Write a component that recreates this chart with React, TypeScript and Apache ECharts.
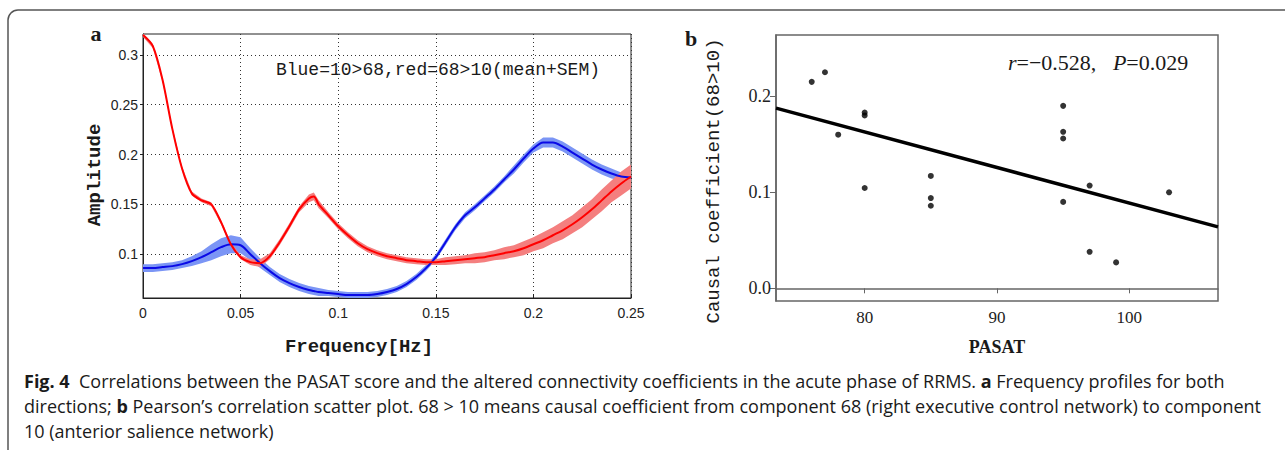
import React, { useEffect, useRef } from "react";
import * as echarts from "echarts";

// Panel a: frequency profiles (Hz)
const freq = [0, 0.005, 0.01, 0.015, 0.02, 0.025, 0.03, 0.035, 0.04, 0.045, 0.05, 0.055, 0.06, 0.065, 0.07, 0.075, 0.08, 0.085, 0.0875, 0.09, 0.095, 0.1, 0.105, 0.11, 0.115, 0.12, 0.125, 0.13, 0.135, 0.14, 0.145, 0.15, 0.155, 0.16, 0.165, 0.17, 0.175, 0.18, 0.185, 0.19, 0.195, 0.2, 0.205, 0.21, 0.215, 0.22, 0.225, 0.23, 0.235, 0.24, 0.245, 0.25];
const blueMean = [0.086, 0.086, 0.087, 0.088, 0.090, 0.093, 0.097, 0.102, 0.107, 0.110, 0.109, 0.100, 0.091, 0.083, 0.076, 0.071, 0.067, 0.064, 0.063, 0.062, 0.061, 0.060, 0.059, 0.059, 0.059, 0.060, 0.062, 0.065, 0.070, 0.077, 0.086, 0.097, 0.112, 0.127, 0.139, 0.147, 0.156, 0.165, 0.175, 0.185, 0.196, 0.206, 0.212, 0.212, 0.208, 0.202, 0.196, 0.190, 0.185, 0.181, 0.178, 0.177];
const blueSem = [0.004, 0.004, 0.004, 0.004, 0.004, 0.005, 0.006, 0.008, 0.009, 0.009, 0.008, 0.006, 0.005, 0.004, 0.004, 0.004, 0.004, 0.004, 0.004, 0.004, 0.003, 0.003, 0.003, 0.003, 0.003, 0.003, 0.003, 0.003, 0.003, 0.003, 0.003, 0.003, 0.003, 0.003, 0.003, 0.003, 0.003, 0.003, 0.003, 0.004, 0.004, 0.004, 0.005, 0.005, 0.005, 0.005, 0.005, 0.005, 0.005, 0.005, 0.004, 0.003];
const redMean = [0.320, 0.309, 0.275, 0.226, 0.186, 0.161, 0.154, 0.150, 0.132, 0.110, 0.097, 0.092, 0.091, 0.098, 0.112, 0.128, 0.145, 0.156, 0.158, 0.150, 0.139, 0.128, 0.119, 0.111, 0.105, 0.101, 0.098, 0.096, 0.094, 0.093, 0.092, 0.092, 0.093, 0.094, 0.095, 0.096, 0.097, 0.099, 0.101, 0.103, 0.106, 0.110, 0.114, 0.119, 0.124, 0.130, 0.137, 0.145, 0.154, 0.163, 0.171, 0.178];
const redSem = [0.002, 0.002, 0.002, 0.002, 0.002, 0.002, 0.002, 0.002, 0.002, 0.002, 0.002, 0.003, 0.004, 0.003, 0.003, 0.003, 0.003, 0.004, 0.004, 0.004, 0.003, 0.003, 0.003, 0.003, 0.003, 0.003, 0.003, 0.003, 0.003, 0.003, 0.003, 0.003, 0.004, 0.004, 0.004, 0.005, 0.005, 0.005, 0.006, 0.006, 0.007, 0.007, 0.008, 0.008, 0.009, 0.009, 0.010, 0.010, 0.011, 0.011, 0.012, 0.012];
const freqTicks = [0, 0.05, 0.1, 0.15, 0.2, 0.25];
const ampTicks = [0.1, 0.15, 0.2, 0.25, 0.3];

// Panel b: scatter
const pasat = [76, 77, 78, 80, 80, 80, 85, 85, 85, 95, 95, 95, 95, 97, 97, 99, 103];
const coef = [0.215, 0.225, 0.16, 0.183, 0.18, 0.1045, 0.117, 0.094, 0.086, 0.19, 0.163, 0.156, 0.09, 0.107, 0.038, 0.027, 0.1];
const fitX = [73.3, 106.7];
const fitY = [0.1876, 0.064];
const pasatTicks = [80, 90, 100];
const coefTicks = [0, 0.1, 0.2];

const bandSeries = (mean: number[], sem: number[], color: string) => ({
  type: "custom",
  xAxisIndex: 0,
  yAxisIndex: 0,
  coordinateSystem: "cartesian2d",
  clip: true,
  silent: true,
  z: 1,
  data: [[freq[0], mean[0]]],
  renderItem: (params: any, api: any) => {
    const upper = freq.map((f, i) => api.coord([f, mean[i] + sem[i]]));
    const lower = freq.map((f, i) => api.coord([f, mean[i] - sem[i]])).reverse();
    return {
      type: "polygon",
      shape: { points: upper.concat(lower) },
      style: { fill: color, stroke: "none" },
    };
  },
});

const txt = (x: number, y: number, text: string, font: any, extra: any = {}) => ({
  type: "text",
  x,
  y,
  rotation: extra.rotation || 0,
  style: {
    text,
    fill: extra.fill || "#1a1a1a",
    fontFamily: font.family,
    fontSize: font.size,
    fontWeight: font.weight || "normal",
    fontStyle: font.style || "normal",
    align: extra.align || "center",
    textAlign: extra.align || "center",
    verticalAlign: "middle",
    textVerticalAlign: "middle",
    rich: extra.rich,
  },
});

export default function App() {
  const ref = useRef<HTMLDivElement>(null);
  useEffect(() => {
    document.body.style.margin = "0";
    const chart = echarts.init(ref.current!, null, { renderer: "svg" });
    const capRich = {
      b: { fontFamily: "Open Sans", fontSize: 18, fontWeight: "bold", fill: "#1a1a1a" },
    };
    chart.setOption({
      animation: false,
      backgroundColor: "#ffffff",
      grid: [
        { left: 143, top: 34, width: 488, height: 264, show: true, borderColor: "#222", borderWidth: 1, backgroundColor: "transparent" },
        { left: 776, top: 35, width: 442, height: 266, show: true, borderColor: "#666", borderWidth: 1.5, backgroundColor: "transparent" },
      ],
      xAxis: [
        {
          type: "value", gridIndex: 0, min: 0, max: 0.25, interval: 0.05,
          axisLine: { show: true, lineStyle: { color: "#222", width: 1 } },
          axisTick: { show: true, inside: true, length: 4, lineStyle: { color: "#222" }, customValues: freqTicks },
          axisLabel: { customValues: freqTicks, fontFamily: "Liberation Sans", fontSize: 14, color: "#222", margin: 8, formatter: (v: number) => String(parseFloat(v.toFixed(3))) },
          splitLine: { show: true, lineStyle: { type: [1, 3], color: "#333", width: 1 } },
        },
        {
          type: "value", gridIndex: 1, min: 73.3, max: 106.7,
          axisLine: { show: true, lineStyle: { color: "#666", width: 1.5 } },
          axisTick: { show: true, length: 5, lineStyle: { color: "#666" }, customValues: pasatTicks },
          axisLabel: { customValues: pasatTicks, fontFamily: "Liberation Serif", fontSize: 17, color: "#222", margin: 8 },
          splitLine: { show: false },
        },
      ],
      yAxis: [
        {
          type: "value", gridIndex: 0, min: 0.056, max: 0.321, splitNumber: 5,
          axisLine: { show: true, lineStyle: { color: "#222", width: 1 } },
          axisTick: { show: true, length: 3, lineStyle: { color: "#222" }, customValues: ampTicks },
          axisLabel: {
            customValues: ampTicks, fontFamily: "Liberation Sans", fontSize: 14, color: "#222", margin: 5,
            formatter: (v: number) => (Math.abs(v / 0.05 - Math.round(v / 0.05)) < 1e-6 ? String(parseFloat(v.toFixed(3))) : ""),
          },
          splitLine: { show: true, lineStyle: { type: [1, 3], color: "#333", width: 1 } },
        },
        {
          type: "value", gridIndex: 1, min: -0.0132, max: 0.2638,
          axisLine: { show: true, lineStyle: { color: "#666", width: 1.5 } },
          axisTick: { show: true, length: 6, lineStyle: { color: "#666" }, customValues: coefTicks },
          axisLabel: { customValues: coefTicks, fontFamily: "Liberation Serif", fontSize: 18, color: "#222", margin: 5, formatter: (v: number) => v.toFixed(1) },
          splitLine: { show: false },
        },
      ],
      series: [
        bandSeries(blueMean, blueSem, "#7b95f5"),
        bandSeries(redMean, redSem, "#f47f7f"),
        {
          type: "line", xAxisIndex: 0, yAxisIndex: 0, symbol: "none", smooth: 0.3, z: 3,
          data: freq.map((f, i) => [f, blueMean[i]]),
          lineStyle: { color: "#0a0ae6", width: 2 },
        },
        {
          type: "line", xAxisIndex: 0, yAxisIndex: 0, symbol: "none", smooth: 0.3, z: 4,
          data: freq.map((f, i) => [f, redMean[i]]),
          lineStyle: { color: "#ff0000", width: 2 },
        },
        {
          type: "line", xAxisIndex: 1, yAxisIndex: 1, symbol: "none", z: 3,
          data: fitX.map((x, i) => [x, fitY[i]]),
          lineStyle: { color: "#000", width: 3.5 },
        },
        {
          type: "scatter", xAxisIndex: 1, yAxisIndex: 1, symbolSize: 6, z: 4,
          data: pasat.map((x, i) => [x, coef[i]]),
          itemStyle: { color: "#000" },
        },
      ],
      graphic: [
        { type: "rect", shape: { x: 8, y: 10, width: 1300, height: 470, r: 10 }, style: { fill: "none", stroke: "#555", lineWidth: 1.5 }, silent: true },
        txt(96, 33, "a", { family: "Liberation Serif", size: 22, weight: "bold" }),
        txt(691, 38, "b", { family: "Liberation Serif", size: 22, weight: "bold" }),
        txt(438, 70, "Blue=10>68,red=68>10(mean+SEM)", { family: "Liberation Mono", size: 18 }),
        txt(95, 175, "Amplitude", { family: "Liberation Mono", size: 19, weight: "bold" }, { rotation: Math.PI / 2 }),
        txt(359, 347, "Frequency[Hz]", { family: "Liberation Mono", size: 19, weight: "bold" }),
        txt(1008, 62, "{i|r}=−0.528,   {i|P}=0.029", { family: "Liberation Serif", size: 22 }, {
          align: "left",
          rich: { i: { fontFamily: "Liberation Serif", fontSize: 22, fontStyle: "italic", fill: "#1a1a1a" } },
        }),
        txt(714, 181, "Causal coefficient(68>10)", { family: "Liberation Mono", size: 19 }, { rotation: Math.PI / 2 }),
        txt(997, 347, "PASAT", { family: "Liberation Serif", size: 18, weight: "bold" }),
        txt(24, 381, "{b|Fig. 4}  Correlations between the PASAT score and the altered connectivity coefficients in the acute phase of RRMS. {b|a} Frequency profiles for both", { family: "Open Sans", size: 18 }, { align: "left", rich: capRich }),
        txt(24, 406, "directions; {b|b} Pearson’s correlation scatter plot. 68 > 10 means causal coefficient from component 68 (right executive control network) to component", { family: "Open Sans", size: 18 }, { align: "left", rich: capRich }),
        txt(24, 431, "10 (anterior salience network)", { family: "Open Sans", size: 18 }, { align: "left", rich: capRich }),
      ],
    });
    return () => chart.dispose();
  }, []);
  return <div ref={ref} style={{ width: 1285, height: 450 }} />;
}
